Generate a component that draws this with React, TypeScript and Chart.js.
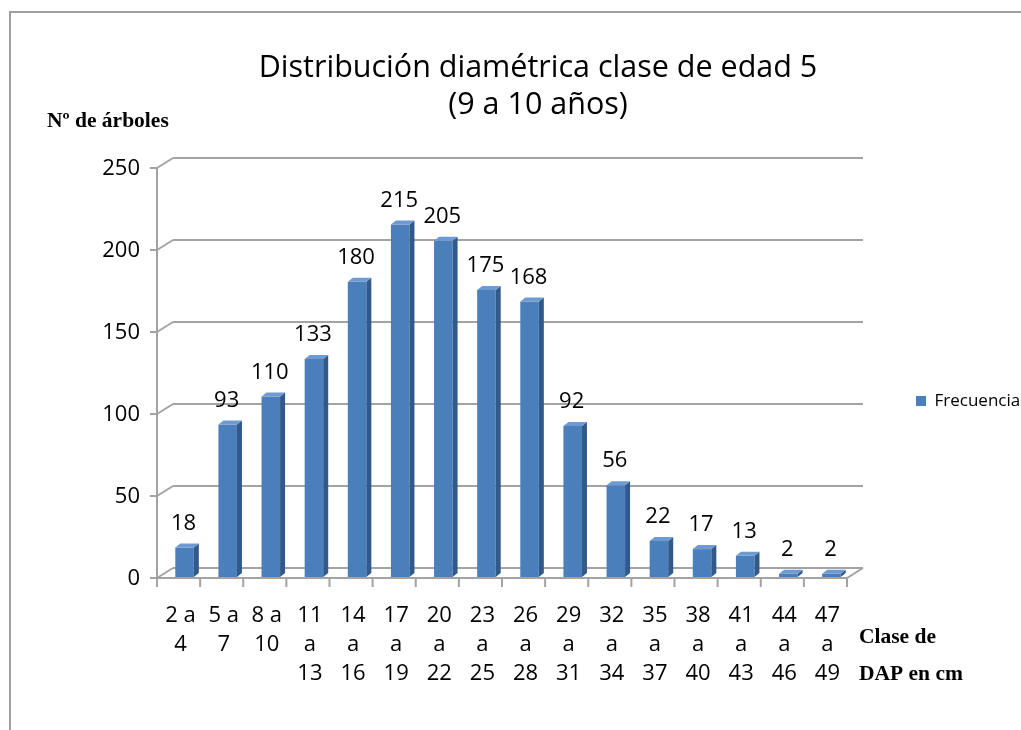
import React, { useEffect, useRef } from 'react';
import { Chart, registerables } from 'chart.js';

Chart.register(...registerables);

const categories: string[][] = [
  ['2 a', '4'], ['5 a', '7'], ['8 a', '10'], ['11', 'a', '13'], ['14', 'a', '16'],
  ['17', 'a', '19'], ['20', 'a', '22'], ['23', 'a', '25'], ['26', 'a', '28'],
  ['29', 'a', '31'], ['32', 'a', '34'], ['35', 'a', '37'], ['38', 'a', '40'],
  ['41', 'a', '43'], ['44', 'a', '46'], ['47', 'a', '49'],
];
const frecuencia: number[] = [18, 93, 110, 133, 180, 215, 205, 175, 168, 92, 56, 22, 17, 13, 2, 2];
const yTicks: number[] = [0, 50, 100, 150, 200, 250];
const titleLines: string[] = ['Distribución diamétrica clase de edad 5', '(9 a 10 años)'];
const seriesLabel = 'Frecuencia';
const yAxisTitle = 'Nº de árboles';
const xAxisTitle: string[] = ['Clase de', 'DAP en cm'];

const SANS = '"Open Sans", "DejaVu Sans", sans-serif';
const GRID = '#A3A3A3';
const FRONT = '#4B7FBC';
const SIDE = '#31598A';
const TOP = '#6E9AD2';

const DX = 16;
const DY = -10;
const BDX = 5;
const BDY = -4;
const AXIS_SHIFT = -6;
const LEGEND_SHIFT = 29;

const framePlugin = {
  id: 'frame3d',
  afterLayout(chart: any) {
    const lg = chart.legend;
    if (lg) {
      lg.top += LEGEND_SHIFT;
      lg.bottom += LEGEND_SHIFT;
    }
  },
  beforeDraw(chart: any) {
    const ctx = chart.ctx;
    ctx.save();
    ctx.fillStyle = '#ffffff';
    ctx.fillRect(0, 0, chart.width, chart.height);
    ctx.strokeStyle = '#A0A0A0';
    ctx.lineWidth = 2;
    ctx.beginPath();
    ctx.moveTo(10, chart.height);
    ctx.lineTo(10, 12);
    ctx.lineTo(chart.width, 12);
    ctx.stroke();
    ctx.restore();
  },
  beforeDatasetsDraw(chart: any) {
    const ctx = chart.ctx;
    const xs = chart.scales.x;
    const ys = chart.scales.y;
    const n = categories.length;
    const step = xs.getPixelForValue(1) - xs.getPixelForValue(0);
    const left0 = xs.getPixelForValue(0) - step / 2 + AXIS_SHIFT;
    const right0 = left0 + n * step;
    const y0 = ys.getPixelForValue(0) + 1;
    const yTop = ys.getPixelForValue(yTicks[yTicks.length - 1]) + 1;
    ctx.save();
    ctx.strokeStyle = GRID;
    ctx.lineWidth = 2;
    ctx.lineCap = 'butt';
    ctx.beginPath();
    for (const v of yTicks) {
      const yv = ys.getPixelForValue(v) + 1;
      ctx.moveTo(left0 + DX, yv + DY);
      ctx.lineTo(right0 + DX, yv + DY);
      ctx.moveTo(left0, yv);
      ctx.lineTo(left0 + DX, yv + DY);
      ctx.moveTo(left0 - 7, yv);
      ctx.lineTo(left0, yv);
    }
    ctx.moveTo(left0, y0);
    ctx.lineTo(left0, yTop);
    ctx.moveTo(left0, y0);
    ctx.lineTo(right0, y0);
    ctx.lineTo(right0 + DX, y0 + DY);
    for (let i = 0; i <= n; i++) {
      const xv = left0 + i * step;
      ctx.moveTo(xv, y0);
      ctx.lineTo(xv, y0 + 9);
    }
    ctx.stroke();
    ctx.restore();
  },
  afterDatasetsDraw(chart: any) {
    const ctx = chart.ctx;
    const meta = chart.getDatasetMeta(0);
    ctx.save();
    meta.data.forEach((el: any, i: number) => {
      const { x, y, base, width } = el.getProps(['x', 'y', 'base', 'width'], true);
      const l = x - width / 2;
      const r = x + width / 2;
      ctx.fillStyle = SIDE;
      ctx.beginPath();
      ctx.moveTo(r, y);
      ctx.lineTo(r + BDX, y + BDY);
      ctx.lineTo(r + BDX, base + BDY);
      ctx.lineTo(r, base);
      ctx.closePath();
      ctx.fill();
      ctx.fillStyle = TOP;
      ctx.beginPath();
      ctx.moveTo(l, y);
      ctx.lineTo(l + BDX, y + BDY);
      ctx.lineTo(r + BDX, y + BDY);
      ctx.lineTo(r, y);
      ctx.closePath();
      ctx.fill();
      ctx.fillStyle = '#000000';
      ctx.font = `22px ${SANS}`;
      ctx.textAlign = 'center';
      ctx.textBaseline = 'middle';
      ctx.fillText(String(frecuencia[i]), x - 1, y - 24);
    });
    ctx.restore();
  },
  afterDraw(chart: any) {
    const ctx = chart.ctx;
    ctx.save();
    ctx.fillStyle = '#000000';
    ctx.font = 'bold 21.5px "Liberation Serif", "Times New Roman", serif';
    ctx.textAlign = 'left';
    ctx.textBaseline = 'middle';
    ctx.fillText(yAxisTitle, 47, 121);
    ctx.fillText(xAxisTitle[0], 859, 637);
    ctx.fillText(xAxisTitle[1], 859, 674);
    ctx.restore();
  },
};

export default function App() {
  const ref = useRef<HTMLCanvasElement>(null);
  useEffect(() => {
    if (!ref.current) return;
    const chart = new Chart(ref.current, {
      type: 'bar',
      data: {
        labels: categories,
        datasets: [
          {
            label: seriesLabel,
            data: frecuencia,
            backgroundColor: FRONT,
            borderWidth: 0,
            barPercentage: 0.43,
            categoryPercentage: 1,
          },
        ],
      },
      options: {
        responsive: false,
        animation: false,
        devicePixelRatio: 1,
        layout: { padding: { left: 55, right: 0, top: 0, bottom: 0 } },
        plugins: {
          title: {
            display: true,
            text: titleLines,
            color: '#000000',
            font: { family: SANS, size: 30.5, weight: 'normal', lineHeight: 1.213 },
            padding: { top: 49.5, bottom: 43.5 },
          },
          legend: {
            display: true,
            position: 'right',
            fullSize: false,
            maxWidth: 168,
            labels: {
              color: '#000000',
              font: { family: SANS, size: 17 },
              boxWidth: 10,
              boxHeight: 10,
              padding: 63,
            },
          },
          tooltip: { enabled: false },
        },
        scales: {
          x: {
            type: 'category',
            offset: true,
            grid: { display: false, drawTicks: false },
            border: { display: false },
            ticks: {
              color: '#000000',
              font: { family: SANS, size: 22, lineHeight: 1.34 },
              padding: 23.5,
              labelOffset: -4,
              autoSkip: false,
              maxRotation: 0,
              minRotation: 0,
            },
            afterFit: (s: any) => { s.height = 153; },
          },
          y: {
            min: 0,
            max: 250,
            grid: { display: false, drawTicks: false },
            border: { display: false },
            ticks: {
              stepSize: 50,
              color: '#000000',
              font: { family: SANS, size: 22 },
              padding: 23,
              labelOffset: 2,
            },
            afterFit: (s: any) => { s.width = 108; },
          },
        },
      },
      plugins: [framePlugin],
    });
    return () => chart.destroy();
  }, []);
  return (
    <div style={{ position: 'absolute', left: 0, top: 0, width: 1021, height: 730 }}>
      <canvas ref={ref} width={1021} height={730} style={{ width: 1021, height: 730, display: 'block' }} />
    </div>
  );
}
